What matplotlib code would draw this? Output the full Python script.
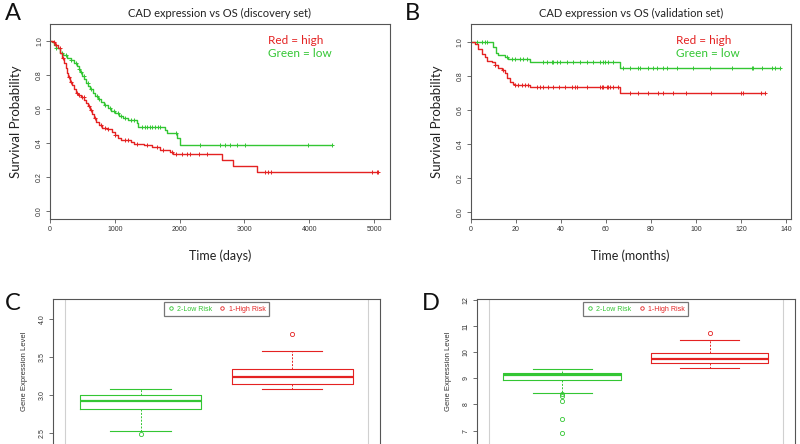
import matplotlib
matplotlib.use("Agg")
import matplotlib.pyplot as plt
import numpy as np

# ---------------- data ----------------
# Panel A (discovery set, days)
a_green_t = [0, 30, 60, 100, 150, 200, 260, 320, 370, 410, 440, 470, 500, 530, 560, 590, 620, 660,
             700, 740, 790, 840, 890, 940, 1000, 1070, 1130, 1200, 1340, 1360, 1780, 1800, 1960, 2010]
a_green_s = [1.0, 0.99, 0.975, 0.96, 0.93, 0.915, 0.90, 0.885, 0.87, 0.855, 0.835, 0.815, 0.795, 0.775,
             0.755, 0.735, 0.715, 0.695, 0.675, 0.66, 0.64, 0.625, 0.605, 0.59, 0.575, 0.56, 0.55, 0.535,
             0.515, 0.495, 0.475, 0.457, 0.43, 0.39]
a_green_end = 4347
a_green_cens = [100, 180, 250, 330, 400, 450, 480, 520, 580, 640, 720, 760, 850, 920, 980, 1050, 1100,
                1150, 1250, 1290, 1420, 1460, 1500, 1540, 1580, 1620, 1660, 1700, 1950,
                2315, 2623, 2701, 2778, 2881, 3009, 3986, 4347]

a_red_t = [0, 40, 80, 120, 160, 190, 220, 240, 260, 280, 310, 340, 370, 400, 430, 480, 530, 560, 590,
           620, 650, 680, 710, 750, 800, 880, 950, 1000, 1050, 1100, 1250, 1300, 1450, 1580, 1700, 1850,
           1900, 2650, 2830, 3190]
a_red_s = [1.0, 0.99, 0.975, 0.955, 0.93, 0.90, 0.87, 0.84, 0.81, 0.785, 0.76, 0.74, 0.72, 0.695, 0.68,
           0.67, 0.655, 0.635, 0.615, 0.595, 0.57, 0.55, 0.525, 0.505, 0.49, 0.48, 0.465, 0.445, 0.43,
           0.418, 0.408, 0.395, 0.388, 0.378, 0.36, 0.345, 0.334, 0.30, 0.268, 0.229]
a_red_end = 5067
a_red_cens = [60, 100, 150, 200, 300, 330, 420, 450, 500, 520, 600, 640, 700, 780, 850, 900, 1000, 1150,
              1200, 1350, 1500, 1650, 1750, 1878, 1944, 2032, 2109, 2160, 2304, 2428, 3318, 3369, 3410,
              4964, 5041, 5060]

# Panel B (validation set, months)
b_green_t = [0, 10.0, 11.2, 12.3, 15.2, 16.6, 26.3, 66.3]
b_green_s = [1.0, 0.97, 0.935, 0.922, 0.912, 0.896, 0.88, 0.846]
b_green_end = 137.3
b_green_cens = [2.7, 4.9, 6.4, 7.4, 16, 18.2, 19.7, 21.9, 23.4, 24.9, 32.3, 33.7, 36, 36.7, 38.2, 39.7,
                42.6, 45.6, 48.5, 51.5, 54.4, 57.4, 58.9, 59.6, 61.1, 63.3, 67.8, 70.7, 74.5, 75.2, 78.9,
                81.1, 82.6, 85.5, 87, 91.4, 98.8, 106.2, 115.9, 124.8, 125.5, 129.2, 133.6, 135.1, 137.3]

b_red_t = [0, 1.9, 3.4, 4.9, 6.4, 7.1, 9.3, 10.8, 12.3, 13.8, 15.2, 16.0, 17.5, 18.9, 19.7, 26.3, 66.3]
b_red_s = [1.0, 0.986, 0.96, 0.93, 0.912, 0.886, 0.882, 0.863, 0.847, 0.834, 0.814, 0.785, 0.765,
           0.751, 0.746, 0.732, 0.697]
b_red_end = 130.7
b_red_cens = [10.8, 14.5, 19.7, 21.2, 22.6, 24.1, 25.6, 29.3, 30.8, 32.3, 34.5, 36.7, 39, 41.9, 44.8,
              46.3, 47, 51.5, 57.4, 58.2, 58.9, 60.4, 61.1, 61.8, 63.3, 65.6, 70.7, 74.5, 78.9, 83.3,
              85.5, 89.9, 95.8, 106.8, 120.2, 120.9, 129.0, 130.5]

# Panel C boxplot stats (low risk, high risk)
c_labels = ["2-Low Risk", "1-High Risk"]
c_med = [2.92, 3.24]
c_q1 = [2.82, 3.15]
c_q3 = [3.01, 3.35]
c_whislo = [2.53, 3.08]
c_whishi = [3.08, 3.58]
c_fliers = [[2.49], [3.80]]

# Panel D boxplot stats
d_labels = ["2-Low Risk", "1-High Risk"]
d_med = [9.12, 9.73]
d_q1 = [8.93, 9.58]
d_q3 = [9.22, 9.98]
d_whislo = [8.43, 9.38]
d_whishi = [9.36, 10.46]
d_fliers = [[8.41, 8.31, 8.12, 7.44, 6.91], [10.74]]

# ---------------- styling ----------------
RED = "#e42222"
GREEN = "#33c633"
SPINE = "#555555"
LBL_FONT = ["Lato", "DejaVu Sans"]
TICK_FONT = ["Liberation Sans", "DejaVu Sans"]

fig = plt.figure(figsize=(8, 4.44), dpi=100)


def style_axes(ax):
    for sp in ax.spines.values():
        sp.set_color(SPINE)
        sp.set_linewidth(0.8)
    ax.tick_params(direction="out", length=3, width=0.6, colors=SPINE, labelsize=5,
                   labelcolor="#333333", pad=2)
    for lab in ax.get_xticklabels() + ax.get_yticklabels():
        lab.set_family(TICK_FONT)


def km(ax, t, s, end, cens, color):
    t = np.asarray(t, float)
    s = np.asarray(s, float)
    tt = np.append(t, end)
    ss = np.append(s, s[-1])
    ax.step(tt, ss, where="post", color=color, lw=1.0)
    ct = np.asarray(cens, float)
    idx = np.searchsorted(t, ct, side="right") - 1
    ax.plot(ct, s[idx], ls="none", marker="+", ms=3.5, mew=0.7, color=color)


def km_panel(rect, xlim, ylim, xticks, title, xlabel, letter, letter_xy, curves):
    ax = fig.add_axes(rect)
    for c in curves:
        km(ax, *c)
    ax.set_xlim(*xlim)
    ax.set_ylim(*ylim)
    ax.set_xticks(xticks)
    ax.set_yticks([0, 0.2, 0.4, 0.6, 0.8, 1.0])
    ax.set_yticklabels(["0.0", "0.2", "0.4", "0.6", "0.8", "1.0"], rotation=90, va="center")
    style_axes(ax)
    ax.set_title(title, fontsize=8, family=LBL_FONT, pad=5, color="#222222")
    ax.set_xlabel(xlabel, fontsize=9, family=LBL_FONT, labelpad=12, color="#222222")
    ax.set_ylabel("Survival Probability", fontsize=9.5, family=LBL_FONT, labelpad=10, color="#222222")
    ax.text(0.64, 0.915, "Red = high", transform=ax.transAxes, color=RED, fontsize=8.5,
            family=LBL_FONT, va="center")
    ax.text(0.64, 0.848, "Green = low", transform=ax.transAxes, color=GREEN, fontsize=8.5,
            family=LBL_FONT, va="center")
    fig.text(letter_xy[0], letter_xy[1], letter, fontsize=17, family=LBL_FONT, ha="center",
             va="center", color="#111111")
    return ax


km_panel([0.0625, 0.5068, 0.425, 0.439], (0, 5247), (-0.045, 1.098),
         [0, 1000, 2000, 3000, 4000, 5000], "CAD expression vs OS (discovery set)", "Time (days)",
         "A", (13 / 800, 1 - 13 / 444),
         [(a_green_t, a_green_s, a_green_end, a_green_cens, GREEN),
          (a_red_t, a_red_s, a_red_end, a_red_cens, RED)])

km_panel([0.5884, 0.5061, 0.40, 0.4398], (0, 142.1), (-0.043, 1.104),
         [0, 20, 40, 60, 80, 100, 120, 140], "CAD expression vs OS (validation set)", "Time (months)",
         "B", (412 / 800, 1 - 14 / 444),
         [(b_green_t, b_green_s, b_green_end, b_green_cens, GREEN),
          (b_red_t, b_red_s, b_red_end, b_red_cens, RED)])


def box_panel(rect, ylim, yticks, yticklabels, labels, med, q1, q3, lo, hi, fl, letter, letter_xy,
              ylabelpad):
    ax = fig.add_axes(rect)
    ax.axvline(0.5, color="#d0d0d0", lw=0.8)
    ax.axvline(2.5, color="#d0d0d0", lw=0.8)
    colors = [GREEN, RED]
    for i in range(2):
        st = [dict(med=med[i], q1=q1[i], q3=q3[i], whislo=lo[i], whishi=hi[i], fliers=fl[i])]
        c = colors[i]
        ax.bxp(st, positions=[i + 1], widths=0.8, capwidths=0.4, showfliers=True,
               boxprops=dict(color=c, lw=0.8),
               medianprops=dict(color=c, lw=1.6),
               whiskerprops=dict(color=c, lw=0.7, linestyle=(0, (2, 1.5))),
               capprops=dict(color=c, lw=0.8),
               flierprops=dict(marker="o", mfc="none", mec=c, ms=3, mew=0.6))
    ax.set_xlim(0.42, 2.58)
    ax.set_ylim(*ylim)
    ax.set_xticks([])
    ax.set_yticks(yticks)
    ax.set_yticklabels(yticklabels, rotation=90, va="center")
    style_axes(ax)
    ax.spines["bottom"].set_visible(False)
    ax.set_ylabel("Gene Expression Level", fontsize=5.5, family=TICK_FONT, labelpad=ylabelpad,
                  color="#333333")
    handles = [plt.Line2D([], [], ls="none", marker="o", mfc="none", mec=colors[i], ms=2.5, mew=0.6)
               for i in range(2)]
    leg = ax.legend(handles, labels, ncol=2, loc="upper center", bbox_to_anchor=(0.5, 1.005),
                    fontsize=5, frameon=True, fancybox=False, borderpad=0.5, handlelength=1.0,
                    handletextpad=0.4, columnspacing=1.0, labelcolor="markeredgecolor",
                    prop={"family": TICK_FONT, "size": 5})
    leg.get_frame().set_edgecolor("#555555")
    leg.get_frame().set_linewidth(0.9)
    fig.text(letter_xy[0], letter_xy[1], letter, fontsize=17, family=LBL_FONT, ha="center",
             va="center", color="#111111")
    return ax


box_panel([0.0659, 0.0, 0.4091, 0.3259], (2.359, 4.263), [2.5, 3.0, 3.5, 4.0],
          ["2.5", "3.0", "3.5", "4.0"], c_labels, c_med, c_q1, c_q3, c_whislo, c_whishi, c_fliers,
          "C", (13 / 800, 1 - 303 / 444), 8)

box_panel([0.5959, 0.0, 0.3978, 0.3259], (6.49, 12.015), [7, 8, 9, 10, 11, 12],
          ["7", "8", "9", "10", "11", "12"], d_labels, d_med, d_q1, d_q3, d_whislo, d_whishi,
          d_fliers, "D", (431 / 800, 1 - 303 / 444), 8)

fig.savefig("out.png", dpi=100)
